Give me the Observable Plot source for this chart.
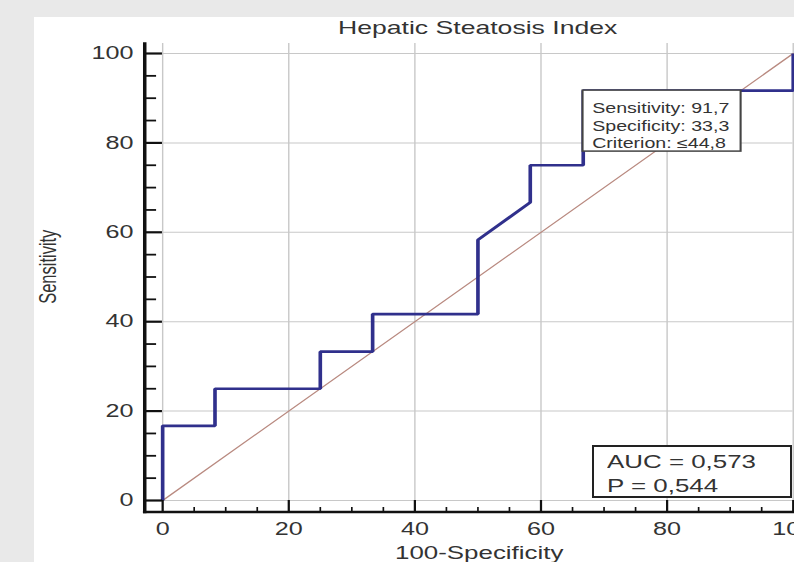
<!DOCTYPE html>
<html><head><meta charset="utf-8">
<script src="https://cdn.jsdelivr.net/npm/d3@7"></script>
<script src="https://cdn.jsdelivr.net/npm/@observablehq/plot@0.6"></script>
<style>
html,body{margin:0;padding:0;background:#e9e9e9;}
#page{position:relative;width:794px;height:562px;overflow:hidden;background:#e9e9e9;font-family:"Liberation Sans",Arial,sans-serif;}
#panel{position:absolute;left:34px;top:17px;width:760px;height:545px;background:#fff;overflow:hidden;}
#chart{position:absolute;left:0;top:0;width:543px;height:545px;transform-origin:0 0;transform:scaleX(1.4);}
#auc{position:absolute;left:558px;top:428px;width:196px;height:49px;border:2px solid #222;background:#fff;box-sizing:content-box;}
#auc div{position:absolute;left:13px;font-size:18.5px;line-height:1;color:#333;white-space:nowrap;transform-origin:0 0;transform:scaleX(1.4);}
</style></head>
<body><div id="page"><div id="panel"><div id="chart"></div><div id="auc"><div id="l1"></div><div id="l2"></div></div></div></div>
<script>
// ---- data ----
const fprValues  = [0, 0, 8.3, 8.3, 25, 25, 33.3, 33.3, 50, 50, 58.3, 58.3, 66.7, 66.7, 100, 100];
const sensValues = [0, 16.7, 16.7, 25, 25, 33.3, 33.3, 41.7, 41.7, 58.3, 66.7, 75, 75, 91.7, 91.7, 100];
const refX = [0, 100];
const refY = [0, 100];
const xTicks = [0, 20, 40, 60, 80, 100];
const yTicks = [0, 20, 40, 60, 80, 100];
const xMinor = [5, 10, 15, 25, 30, 35, 45, 50, 55, 65, 70, 75, 85, 90, 95];
const yMinor = [5, 10, 15, 25, 30, 35, 45, 50, 55, 65, 70, 75, 85, 90, 95];
const criterionSens = 91.7;
const criterionSpec = 33.3;
const criterionValue = 44.8;
const aucValue = 0.573;
const pValue = 0.544;
const titleText = "Hepatic Steatosis Index";
const xLabel = "100-Specificity";
const yLabel = "Sensitivity";

// ---- layout (svg units; svg is stretched horizontally by 1.4) ----
const W = 543, H = 545;
const mL = 78.6, mR = 1.2, mT = 26, mB = 50.5;
const frameW = W - mL - mR, frameH = H - mT - mB;
const fmt = v => String(v).replace(".", ",");

const rocData = fprValues.map((f, i) => ({fpr: f, sens: sensValues[i]}));
const refData = refX.map((x, i) => ({x, y: refY[i]}));
const crit = [{fpr: 100 - criterionSpec, sens: criterionSens, spec: criterionSpec, c: criterionValue}];

const ink = "#333";
const plot = Plot.plot({
  width: W, height: H,
  marginLeft: mL, marginRight: mR, marginTop: mT, marginBottom: mB,
  style: {fontFamily: "'Liberation Sans', Arial, sans-serif", overflow: "visible", background: "transparent"},
  x: {domain: [0, 100], insetLeft: 12.8, insetRight: 0, axis: null},
  y: {domain: [0, 100], insetTop: 10, insetBottom: 11.5, axis: null},
  marks: [
    Plot.ruleX(xTicks, {x: d => d, stroke: "#c8c8c8", strokeWidth: 1}),
    Plot.ruleY(yTicks, {y: d => d, stroke: "#c8c8c8", strokeWidth: 1}),
    Plot.line(refData, {x: "x", y: "y", stroke: "#b98a80", strokeWidth: 1.1}),
    Plot.line(rocData, {x: "fpr", y: "sens", stroke: "#30308c", strokeWidth: 2.6, strokeLinejoin: "miter", strokeLinecap: "butt"}),
    // axis lines
    Plot.frame({anchor: "left", stroke: "#111", strokeWidth: 2.5}),
    Plot.frame({anchor: "bottom", stroke: "#111", strokeWidth: 2.6}),
    // ticks (pointing inward)
    Plot.tickY(yTicks, {y: d => d, stroke: "#111", strokeWidth: 2.2, insetRight: frameW - 12.8}),
    Plot.tickY(yMinor, {y: d => d, stroke: "#111", strokeWidth: 1.8, insetRight: frameW - 8.6}),
    Plot.tickX(xTicks, {x: d => d, stroke: "#111", strokeWidth: 1.6, insetTop: frameH - 11.5}),
    Plot.tickX(xMinor, {x: d => d, stroke: "#111", strokeWidth: 1.2, insetTop: frameH - 4.5}),
    // tick labels
    Plot.text(yTicks, {y: d => d, text: d => String(d), frameAnchor: "left", textAnchor: "end", dx: -8, fontSize: 18, fill: ink}),
    Plot.text(xTicks, {x: d => d, text: d => String(d), frameAnchor: "bottom", lineAnchor: "middle", dy: 17, fontSize: 18, fill: ink}),
    // titles
    Plot.text([titleText], {text: d => d, frameAnchor: "top", lineAnchor: "bottom", dx: 6.2, dy: -9.5, fontSize: 19, fill: ink}),
    Plot.text([xLabel], {text: d => d, frameAnchor: "bottom", lineAnchor: "bottom", dx: 7.3, dy: 47, fontSize: 18.5, fill: ink}),
    Plot.text([yLabel], {text: d => d, frameAnchor: "left", textAnchor: "middle", lineAnchor: "middle", rotate: -90, dx: -68.6, dy: -11, fontSize: 16.5, fill: ink}),
    // criterion box anchored at the optimal point
    Plot.rect(crit, {x1: "fpr", x2: "fpr", y1: "sens", y2: "sens", insetRight: -112.9, insetBottom: -61, fill: "white", stroke: "#444", strokeWidth: 1.5}),
    Plot.text(crit, {x: "fpr", y: "sens",
      text: d => `Sensitivity: ${fmt(d.sens)}\nSpecificity: ${fmt(d.spec)}\nCriterion: \u2264${fmt(d.c)}`,
      textAnchor: "start", lineAnchor: "top", dx: 6.4, dy: 10, fontSize: 14, lineHeight: 1.25, fill: ink})
  ]
});
document.getElementById("chart").appendChild(plot);
const l1 = document.getElementById("l1"), l2 = document.getElementById("l2");
l1.textContent = `AUC = ${fmt(aucValue)}`;
l2.textContent = `P = ${fmt(pValue)}`;
l1.style.top = "6.4px";
l2.style.top = "30.4px";
</script>
</body></html>
